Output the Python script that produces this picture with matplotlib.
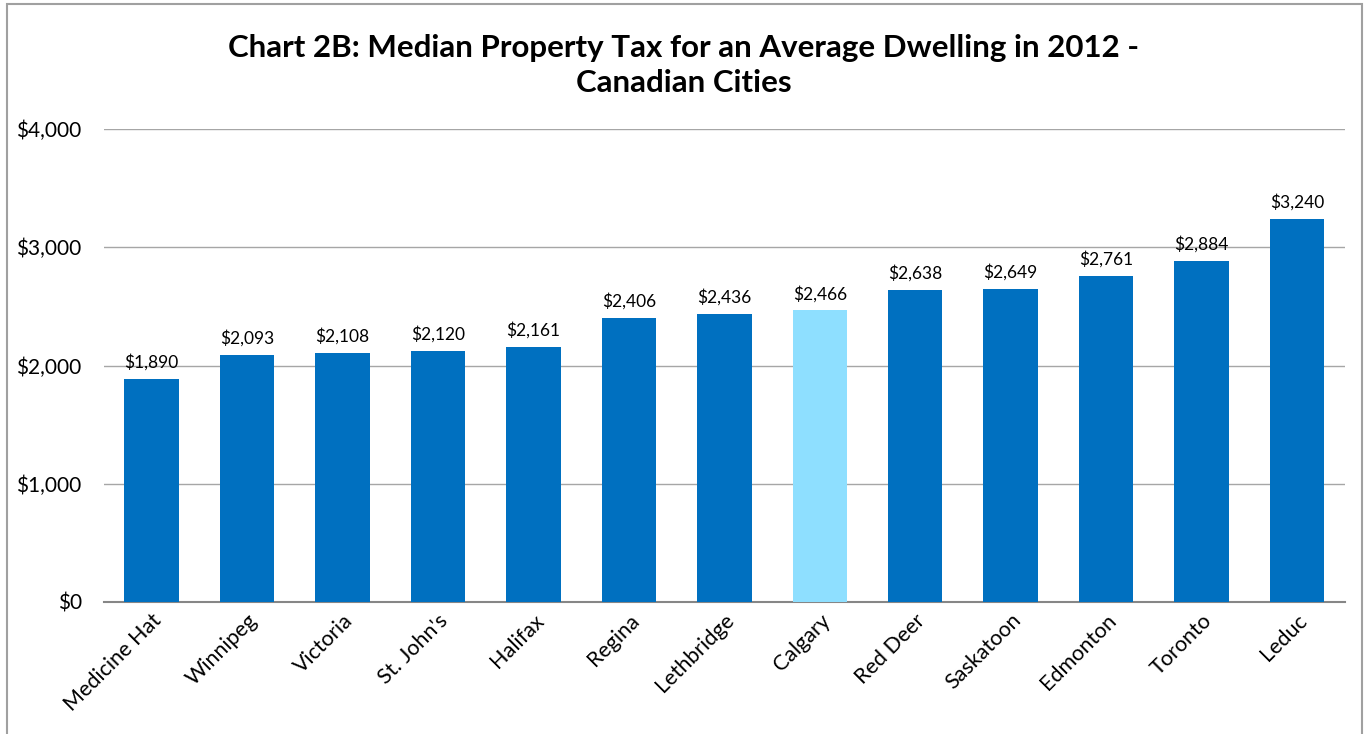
import matplotlib.pyplot as plt
from matplotlib.patches import Rectangle
from matplotlib.ticker import FuncFormatter

plt.rcParams['font.family'] = ['Lato', 'DejaVu Sans']

cities = ['Medicine Hat', 'Winnipeg', 'Victoria', "St. John's", 'Halifax', 'Regina',
          'Lethbridge', 'Calgary', 'Red Deer', 'Saskatoon', 'Edmonton', 'Toronto', 'Leduc']
tax = [1890, 2093, 2108, 2120, 2161, 2406, 2436, 2466, 2638, 2649, 2761, 2884, 3240]
highlight = 'Calgary'

colors = ['#8EDFFF' if c == highlight else '#0070C0' for c in cities]

fig = plt.figure(figsize=(13.68, 7.34), dpi=100)
ax = fig.add_axes([0.076, 0.18, 0.907, 0.644])

x = range(len(cities))
bars = ax.bar(x, tax, width=0.57, color=colors, zorder=3)
for i, v in enumerate(tax):
    ax.text(i, v + 70, '${:,}'.format(v), ha='center', va='bottom', fontsize=12.5)

ax.set_xlim(-0.5, len(cities) - 0.5)
ax.set_ylim(0, 4000)
ax.set_yticks([0, 1000, 2000, 3000, 4000])
ax.yaxis.set_major_formatter(FuncFormatter(lambda v, p: '${:,.0f}'.format(v)))
ax.grid(axis='y', color='#A6A6A6', linewidth=1, zorder=0)
for s in ['top', 'right', 'left']:
    ax.spines[s].set_visible(False)
ax.spines['bottom'].set_color('#868686')
ax.spines['bottom'].set_linewidth(1.5)
ax.tick_params(axis='y', length=0, labelsize=15, pad=16)
ax.tick_params(axis='x', length=0, labelsize=15.5, pad=6)
ax.set_xticks(list(x))
ax.set_xticklabels(cities, rotation=45, ha='right', rotation_mode='anchor')

fig.text(0.5, 0.911, 'Chart 2B: Median Property Tax for an Average Dwelling in 2012 -\nCanadian Cities',
         ha='center', va='center', fontsize=22.5, fontweight='bold', linespacing=1.3)

fig.patches.append(Rectangle((7 / 1368, -0.01), 1355 / 1368, 1 - 4 / 734 + 0.01,
                             transform=fig.transFigure, fill=False,
                             edgecolor='#A0A0A0', linewidth=1.5))

fig.savefig('out.png', dpi=100)
